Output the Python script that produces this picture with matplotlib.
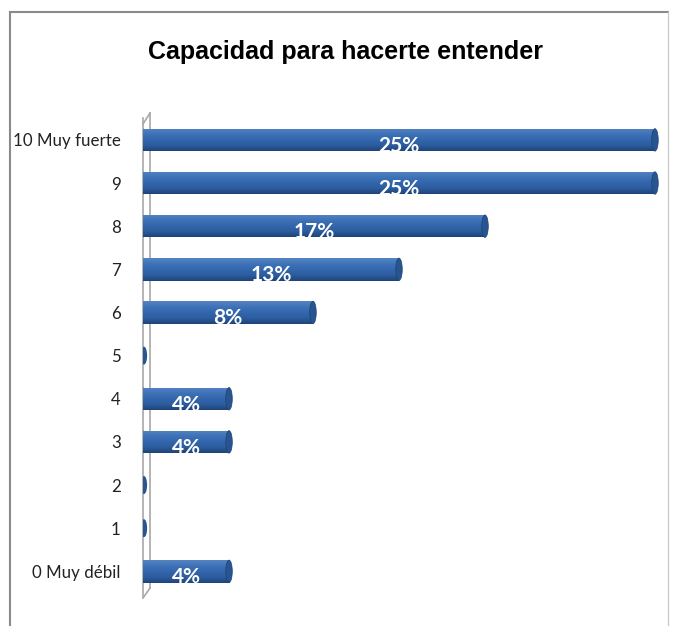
import numpy as np
import matplotlib.pyplot as plt
from matplotlib.patches import Rectangle, Ellipse
from matplotlib.colors import LinearSegmentedColormap

# datos (porcentaje de respuestas)
categorias = ['0 Muy débil', '1', '2', '3', '4', '5', '6', '7', '8', '9', '10 Muy fuerte']
valores = [4.2, 0, 0, 4.2, 4.2, 0, 8.3, 12.5, 16.7, 25, 25]
etiquetas = ['4%', '', '', '4%', '4%', '', '8%', '13%', '17%', '25%', '25%']

fig = plt.figure(figsize=(6.74, 6.26), dpi=100)
ax = fig.add_axes([143 / 674, 0.046, (665 - 143) / 674, 0.765])

# degradado tipo cilindro
cmap = LinearSegmentedColormap.from_list('cil', ['#1f4377', '#2c5da0', '#3366ac', '#3f73b8', '#5583c2'])
grad = np.linspace(0, 1, 64).reshape(-1, 1)

h = 0.52
for i, v in enumerate(valores):
    y0 = i - h / 2
    if v > 0:
        rect = Rectangle((0, y0), v, h, facecolor='none', edgecolor='none')
        ax.add_patch(rect)
        im = ax.imshow(grad, extent=(0, v, y0, y0 + h), origin='lower', aspect='auto', cmap=cmap, zorder=2)
        im.set_clip_path(rect)
        ax.add_patch(Ellipse((v, i), 0.32, h, facecolor='#28548f', edgecolor='#1f4377', lw=0.5, zorder=3))
        ax.add_patch(Ellipse((0, i), 0.32, h, facecolor='#2c5da0', edgecolor='none', zorder=1.5))
        ax.text(v / 2, i - 0.14, etiquetas[i], color='white', ha='center', va='center',
                fontsize=15, fontweight='bold', family=['Lato', 'DejaVu Sans'], zorder=4)
    else:
        ax.add_patch(Ellipse((0.05, i), 0.3, h * 0.8, facecolor='#28548f', edgecolor='none', zorder=3))

ax.set_xlim(0, 25.49)
ax.set_ylim(-0.6, 10.5)
ax.set_yticks(range(len(categorias)))
ax.set_yticklabels(categorias, fontsize=12.2, color='#222222', family=['Lato', 'DejaVu Sans'])
ax.tick_params(axis='y', length=0, pad=16)
ax.set_xticks([])
for s in ['top', 'right', 'bottom']:
    ax.spines[s].set_visible(False)
ax.spines['left'].set_color('#a8a8a8')
ax.spines['left'].set_linewidth(1.2)
ax.spines['left'].set_zorder(0.5)
ax.set_zorder(1)

# pared del eje (efecto 3D), detrás de las barras
wall = dict(color='#a8a8a8', lw=1.2, transform=fig.transFigure, clip_on=False, zorder=0.5)
ax.plot([143 / 674, 150 / 674], [1 - 124 / 626, 1 - 113 / 626], **wall)
ax.plot([150 / 674, 150 / 674], [1 - 113 / 626, 1 - 588 / 626], **wall)
ax.plot([143 / 674, 150 / 674], [1 - 598 / 626, 1 - 588 / 626], **wall)

fig.text(345 / 674, 1 - 52 / 626, 'Capacidad para hacerte entender', ha='center', va='center',
         fontsize=18, fontweight='bold', family=['Liberation Sans', 'DejaVu Sans'])

# marco
fig.add_artist(plt.Line2D([10 / 674, 668 / 674], [1 - 12 / 626, 1 - 12 / 626], color='#8a8a8a', lw=1.5))
fig.add_artist(plt.Line2D([10 / 674, 10 / 674], [0, 1 - 12 / 626], color='#8a8a8a', lw=1.5))
fig.add_artist(plt.Line2D([668 / 674, 668 / 674], [0, 1 - 12 / 626], color='#cccccc', lw=1))

fig.savefig('out.png', dpi=100)
